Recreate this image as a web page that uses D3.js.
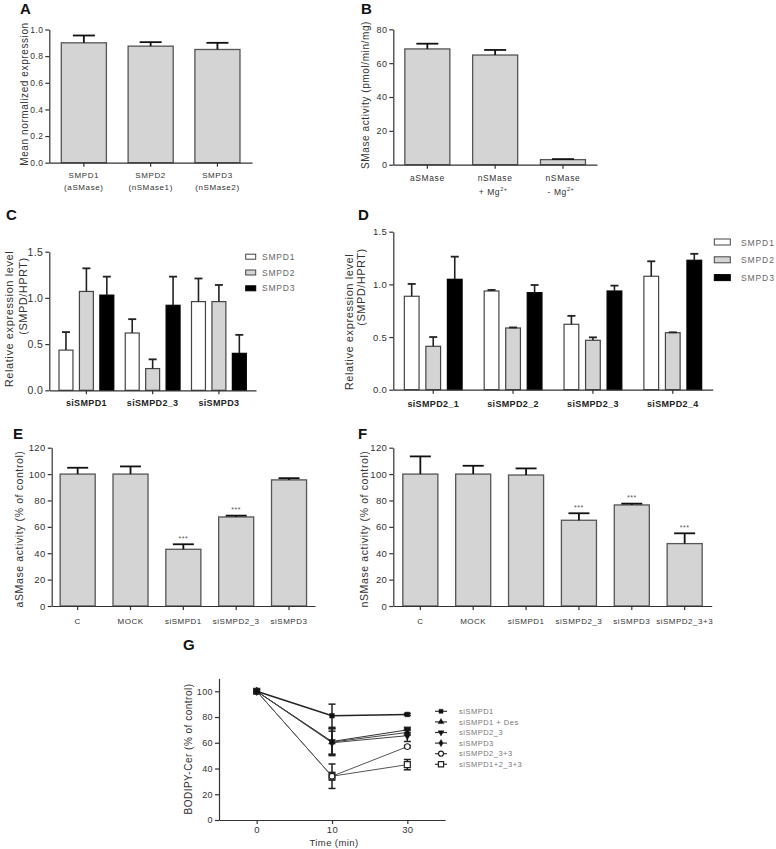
<!DOCTYPE html>
<html><head><meta charset="utf-8">
<script src="https://cdn.jsdelivr.net/npm/d3@7"></script>
<style>
html,body{margin:0;padding:0;background:#fff;}
svg{display:block;font-family:"Liberation Sans",Arial,sans-serif;}
</style></head><body>
<svg id="fig" width="776" height="849"></svg>
<script>
// ---------------- DATA ----------------
// Panel A
const aCategories = ["SMPD1", "SMPD2", "SMPD3"];
const aSubLabels = ["(aSMase)", "(nSMase1)", "(nSMase2)"];
const aValues = [0.90, 0.875, 0.85];
const aErrors = [0.055, 0.03, 0.05];
const aTicks = [0, 0.2, 0.4, 0.6, 0.8, 1.0];

// Panel B
const bCategories = ["aSMase", "nSMase", "nSMase"];
const bSubLabels = ["", "+ Mg", "- Mg"];
const bSuperscripts = ["", "2+", "2+"];
const bValues = [68.4, 64.8, 3.0];
const bErrors = [3.1, 3.0, 0.3];
const bTicks = [0, 20, 40, 60, 80];

// Panel C
const cGroups = ["siSMPD1", "siSMPD2_3", "siSMPD3"];
const cSeries = ["SMPD1", "SMPD2", "SMPD3"];
const cSMPD1 = [0.435, 0.62, 0.96];
const cSMPD2 = [1.07, 0.235, 0.96];
const cSMPD3 = [1.03, 0.92, 0.40];
const cErr1 = [0.195, 0.15, 0.25];
const cErr2 = [0.25, 0.10, 0.18];
const cErr3 = [0.20, 0.31, 0.20];
const cTicks = [0, 0.5, 1.0, 1.5];

// Panel D
const dGroups = ["siSMPD2_1", "siSMPD2_2", "siSMPD2_3", "siSMPD2_4"];
const dSeries = ["SMPD1", "SMPD2", "SMPD3"];
const dSMPD1 = [0.887, 0.937, 0.621, 1.077];
const dSMPD2 = [0.412, 0.586, 0.469, 0.541];
const dSMPD3 = [1.048, 0.921, 0.937, 1.229];
const dErr1 = [0.117, 0.01, 0.08, 0.142];
const dErr2 = [0.088, 0.005, 0.028, 0.004];
const dErr3 = [0.215, 0.073, 0.051, 0.061];
const dTicks = [0, 0.5, 1.0, 1.5];

// Panel E
const eCategories = ["C", "MOCK", "siSMPD1", "siSMPD2_3", "siSMPD3"];
const eValues = [100, 100, 43, 67.5, 95.6];
const eErrors = [4.8, 5.8, 3.8, 1.0, 1.3];
const eSignificance = ["", "", "***", "***", ""];
const eTicks = [0, 20, 40, 60, 80, 100, 120];

// Panel F
const fCategories = ["C", "MOCK", "siSMPD1", "siSMPD2_3", "siSMPD3", "siSMPD2_3+3"];
const fValues = [100, 100, 99.3, 65, 76.6, 47.3];
const fErrors = [13.4, 6.3, 5.0, 5.3, 1.0, 7.8];
const fSignificance = ["", "", "", "***", "***", "***"];
const fTicks = [0, 20, 40, 60, 80, 100, 120];

// Panel G
const gTimes = ["0", "10", "30"];
const gSeriesNames = ["siSMPD1", "siSMPD1 + Des", "siSMPD2_3", "siSMPD3", "siSMPD2_3+3", "siSMPD1+2_3+3"];
const gSiSMPD1 = [100, 81, 82];
const gSiSMPD1Des = [100, 60.5, 68];
const gSiSMPD2_3 = [100, 61, 70];
const gSiSMPD3 = [100, 60, 65.5];
const gSiSMPD2_3_3 = [100, 34, 57];
const gSiSMPD1_2_3_3 = [100, 34, 43];
const gErrSiSMPD1 = [0, 9, 0.8];
const gErrSiSMPD1Des = [0, 10.5, 2];
const gErrSiSMPD2_3 = [0, 10, 2];
const gErrSiSMPD3 = [0, 9, 4.5];
const gErrSiSMPD2_3_3 = [0, 9.5, 1];
const gErrSiSMPD1_2_3_3 = [0, 3, 4];
const gTicks = [0, 20, 40, 60, 80, 100];

// ---------------- STYLE ----------------
const FONT = '"Liberation Sans", Arial, sans-serif';
const AX = "#333";
const BAR_FILL = "#d4d4d4";
const BAR_STROKE = "#555";
const groupFills = ["#ffffff", "#d4d4d4", "#000000"];

const svg = d3.select("#fig");
svg.append("rect").attr("width", 776).attr("height", 849).attr("fill", "#fff");

function styleAxis(a, fs) {
  a.attr("font-family", FONT);
  a.select(".domain").attr("stroke", AX).attr("stroke-width", 1.2);
  a.selectAll(".tick line").attr("stroke", AX).attr("stroke-width", 1.2);
  a.selectAll(".tick text").attr("fill", "#333").attr("font-size", fs || 8.5).attr("letter-spacing", 0.4);
}
function yAxis(y, x0, ticks, fmt, fs) {
  const a = svg.append("g").attr("transform", `translate(${x0},0)`)
    .call(d3.axisLeft(y).tickValues(ticks).tickFormat(fmt).tickSize(4).tickSizeOuter(0).tickPadding(2));
  styleAxis(a, fs);
  return a;
}
function xAxis(x, y0) {
  const a = svg.append("g").attr("transform", `translate(0,${y0})`)
    .call(d3.axisBottom(x).tickFormat("").tickSize(4).tickSizeOuter(0));
  styleAxis(a);
  return a;
}
function line(x1, y1, x2, y2, w, c) {
  svg.append("line").attr("x1", x1).attr("y1", y1).attr("x2", x2).attr("y2", y2)
    .attr("stroke", c || "#111").attr("stroke-width", w || 1.8);
}
function text(x, y, s, o) {
  o = o || {};
  return svg.append("text").attr("x", x).attr("y", y).text(s)
    .attr("font-family", FONT).attr("font-size", o.fs || 8.5)
    .attr("font-weight", o.fw || "normal")
    .attr("fill", o.fill || "#333")
    .attr("letter-spacing", o.ls == null ? 0.4 : o.ls)
    .attr("text-anchor", o.anchor || "middle");
}
function vtext(cx, cy, s, fs, ls) {
  svg.append("text").attr("transform", `translate(${cx},${cy}) rotate(-90)`)
    .attr("text-anchor", "middle").attr("font-family", FONT).attr("font-size", fs)
    .attr("fill", "#333").attr("letter-spacing", ls == null ? 0.5 : ls).text(s);
}
function panelLabel(x, y, s) {
  svg.append("text").attr("x", x).attr("y", y).text(s).attr("font-family", FONT)
    .attr("font-size", 15).attr("font-weight", "bold").attr("fill", "#111");
}

// simple bar chart
function simpleBars(o) {
  const x = d3.scaleBand().domain(o.values.map((d, i) => i)).range([o.xl, o.xr])
    .paddingInner(o.pi).paddingOuter(o.po);
  const y = d3.scaleLinear().domain([0, o.ymax]).range([o.yb, o.yt]);
  svg.append("g").selectAll("rect").data(o.values).join("rect")
    .attr("x", (d, i) => x(i)).attr("y", d => y(d))
    .attr("width", x.bandwidth()).attr("height", d => y(0) - y(d))
    .attr("fill", BAR_FILL).attr("stroke", BAR_STROKE).attr("stroke-width", 1.3);
  o.values.forEach((v, i) => {
    const cx = x(i) + x.bandwidth() / 2;
    const ye = y(v + o.errors[i]);
    line(cx, y(v), cx, ye);
    line(cx - o.capW / 2, ye, cx + o.capW / 2, ye);
    if (o.sig && o.sig[i]) text(cx, ye - 3.5, o.sig[i], { fs: 7, fill: "#555", ls: 0.5 });
  });
  yAxis(y, o.xl, o.ticks, o.fmt, o.tfs);
  xAxis(x, o.yb);
  return { x, y };
}

// grouped bars
function groupBars(o) {
  const x = d3.scaleBand().domain(o.groups).range([o.xl, o.xr]).paddingInner(0).paddingOuter(o.gpo);
  const xi = d3.scaleBand().domain(d3.range(o.series.length)).range([0, x.bandwidth()])
    .paddingInner(o.pi).paddingOuter(o.po);
  const y = d3.scaleLinear().domain([0, o.ymax]).range([o.yb, o.yt]);
  o.series.forEach((vals, s) => {
    svg.append("g").selectAll("rect").data(vals).join("rect")
      .attr("x", (d, i) => x(o.groups[i]) + xi(s)).attr("y", d => y(d))
      .attr("width", xi.bandwidth()).attr("height", d => y(0) - y(d))
      .attr("fill", groupFills[s]).attr("stroke", s === 2 ? "#000" : "#444").attr("stroke-width", 1.2);
    vals.forEach((v, i) => {
      const cx = x(o.groups[i]) + xi(s) + xi.bandwidth() / 2;
      const ye = y(v + o.errors[s][i]);
      line(cx, y(v), cx, ye, 1.6, "#222");
      line(cx - o.capW / 2, ye, cx + o.capW / 2, ye, 1.8, "#222");
    });
  });
  yAxis(y, o.xl, o.ticks, d3.format(".1f"), o.tfs);
  xAxis(x, o.yb);
  o.groups.forEach(gname => {
    text(x(gname) + x.bandwidth() / 2, o.labelY, gname, { fs: 9, fw: "bold", fill: "#222", ls: 0.35 });
  });
  return { x, y };
}

// ---------------- PANEL A ----------------
panelLabel(20, 14, "A");
{
  const r = simpleBars({ values: aValues, errors: aErrors, xl: 49.3, xr: 252, pi: 0.325, po: 0.18,
    yb: 162.7, yt: 29.5, ymax: 1.0, ticks: aTicks, fmt: d3.format(".1f"), capW: 22, tfs: 8.5 });
  aCategories.forEach((c, i) => {
    const cx = r.x(i) + r.x.bandwidth() / 2;
    text(cx, 177.5, c, { fs: 8, ls: 0.6 });
    text(cx, 189.5, aSubLabels[i], { fs: 8, ls: 0.6 });
  });
  vtext(27.5, 94, "Mean normalized expression", 10, 0.6);
}

// ---------------- PANEL B ----------------
panelLabel(361, 14, "B");
{
  const r = simpleBars({ values: bValues, errors: bErrors, xl: 393.3, xr: 597, pi: 0.336, po: 0.17,
    yb: 164.7, yt: 29.3, ymax: 80, ticks: bTicks, fmt: d3.format("d"), capW: 22, tfs: 9 });
  bCategories.forEach((c, i) => {
    const cx = r.x(i) + r.x.bandwidth() / 2;
    text(cx, 181, c, { fs: 8.5, ls: 0.6 });
    if (bSubLabels[i]) {
      const t = text(cx - 2, 195, bSubLabels[i], { fs: 8.5, ls: 0.6 });
      t.append("tspan").attr("dy", -4).attr("font-size", 5.5).text(bSuperscripts[i]);
    }
  });
  vtext(368.5, 95, "SMase activity (pmol/min/mg)", 10, 0.6);
}

// ---------------- PANEL C ----------------
panelLabel(6, 220, "C");
groupBars({ groups: cGroups, series: [cSMPD1, cSMPD2, cSMPD3], errors: [cErr1, cErr2, cErr3],
  xl: 49.3, xr: 256, gpo: 0.06, pi: 0.317, po: 0.28,
  yb: 390.3, yt: 251.7, ymax: 1.5, ticks: cTicks, capW: 8, labelY: 406, tfs: 10.5 });
vtext(13, 319, "Relative expression level", 11, 0.6);
vtext(27, 296, "(SMPD/HPRT)", 11, 0.5);
cSeries.forEach((s, i) => {
  const yy = 256.7 + i * 15.8;
  svg.append("rect").attr("x", 245.7).attr("y", yy - 2.5).attr("width", 10).attr("height", 5)
    .attr("fill", groupFills[i]).attr("stroke", i === 2 ? "#000" : "#444").attr("stroke-width", 1);
  text(262, yy + 3, s, { fs: 8.5, fill: "#666", anchor: "start", ls: 0.8 });
});

// ---------------- PANEL D ----------------
panelLabel(358, 220, "D");
groupBars({ groups: dGroups, series: [dSMPD1, dSMPD2, dSMPD3], errors: [dErr1, dErr2, dErr3],
  xl: 393.3, xr: 712.7, gpo: 0, pi: 0.316, po: 0.513,
  yb: 389.7, yt: 231.7, ymax: 1.5, ticks: dTicks, capW: 8, labelY: 407, tfs: 9.5 });
vtext(353, 322, "Relative expression level", 11, 0.6);
vtext(364.5, 287, "(SMPD/HPRT)", 11, 0.5);
dSeries.forEach((s, i) => {
  const yy = 242 + i * 17.8;
  svg.append("rect").attr("x", 714.3).attr("y", yy - 3).attr("width", 16).attr("height", 6)
    .attr("fill", groupFills[i]).attr("stroke", i === 2 ? "#000" : "#444").attr("stroke-width", 1);
  text(741, yy + 3.5, s, { fs: 8.5, fill: "#666", anchor: "start", ls: 0.9 });
});

// ---------------- PANEL E ----------------
panelLabel(13, 438.5, "E");
{
  const r = simpleBars({ values: eValues, errors: eErrors, xl: 51.7, xr: 315, pi: 0.337, po: 0.16,
    yb: 606, yt: 447.7, ymax: 120, ticks: eTicks, fmt: d3.format("d"), capW: 21, sig: eSignificance, tfs: 9.5 });
  eCategories.forEach((c, i) => text(r.x(i) + r.x.bandwidth() / 2, 624, c, { fs: 8, ls: 0.5 }));
  vtext(23, 529, "aSMase activity (% of control)", 10.5, 0.6);
}

// ---------------- PANEL F ----------------
panelLabel(358, 438.5, "F");
{
  const r = simpleBars({ values: fValues, errors: fErrors, xl: 393.3, xr: 711.7, pi: 0.337, po: 0.18,
    yb: 606, yt: 447.7, ymax: 120, ticks: fTicks, fmt: d3.format("d"), capW: 21, sig: fSignificance, tfs: 9.5 });
  fCategories.forEach((c, i) => text(r.x(i) + r.x.bandwidth() / 2, 624, c, { fs: 8, ls: 0.5 }));
  vtext(368, 529, "nSMase activity (% of control)", 10.5, 0.6);
}

// ---------------- PANEL G ----------------
panelLabel(183, 650, "G");
{
  const x = d3.scalePoint().domain(gTimes).range([219, 445]).padding(0.5);
  const y = d3.scaleLinear().domain([0, 110]).range([820, 678.4]);
  const seriesVals = [gSiSMPD1, gSiSMPD1Des, gSiSMPD2_3, gSiSMPD3, gSiSMPD2_3_3, gSiSMPD1_2_3_3];
  const seriesErr = [gErrSiSMPD1, gErrSiSMPD1Des, gErrSiSMPD2_3, gErrSiSMPD3, gErrSiSMPD2_3_3, gErrSiSMPD1_2_3_3];
  const symTypes = [d3.symbolSquare, d3.symbolTriangle, d3.symbolTriangle, d3.symbolDiamond, d3.symbolCircle, d3.symbolSquare];
  const symRot = [0, 0, 180, 0, 0, 0];
  const symSize = [22, 20, 20, 20, 26, 36];
  const filled = [true, true, true, true, false, false];
  const lw = [1.4, 1, 1, 1, 1, 1];
  const lc = ["#222", "#444", "#333", "#444", "#555", "#555"];
  const lineGen = d3.line().x((d, i) => x(gTimes[i])).y(d => y(d));
  function marker(px, py, s, scale) {
    svg.append("path").attr("transform", `translate(${px},${py}) rotate(${symRot[s]})`)
      .attr("d", d3.symbol().type(symTypes[s]).size(symSize[s] * (scale || 1))())
      .attr("fill", filled[s] ? "#111" : "#fff").attr("stroke", "#222").attr("stroke-width", filled[s] ? 0.5 : 1.2);
  }
  for (let s = seriesVals.length - 1; s >= 0; s--) {
    const vals = seriesVals[s];
    svg.append("path").attr("d", lineGen(vals)).attr("fill", "none").attr("stroke", lc[s]).attr("stroke-width", lw[s]);
    vals.forEach((v, i) => {
      const e = seriesErr[s][i];
      if (e > 0) {
        const cx = x(gTimes[i]);
        line(cx, y(v - e), cx, y(v + e), 1.5, "#222");
        line(cx - 3.5, y(v + e), cx + 3.5, y(v + e), 1.5, "#222");
        line(cx - 3.5, y(v - e), cx + 3.5, y(v - e), 1.5, "#222");
      }
    });
  }
  for (let s = seriesVals.length - 1; s >= 0; s--) {
    seriesVals[s].forEach((v, i) => marker(x(gTimes[i]), y(v), s));
  }
  yAxis(y, 219, gTicks, d3.format("d"), 9);
  const xa = svg.append("g").attr("transform", "translate(0,820)")
    .call(d3.axisBottom(x).tickSize(4).tickSizeOuter(0).tickPadding(2));
  styleAxis(xa, 9.5);
  text(334, 846, "Time (min)", { fs: 9.5, ls: 0.4 });
  vtext(192, 749, "BODIPY-Cer (% of control)", 10, 0.5);
  gSeriesNames.forEach((n, s) => {
    const yy = 711.3 + s * 10.6;
    line(435, yy, 447, yy, 1.2, "#333");
    marker(441, yy, s, 0.75);
    text(459, yy + 2.6, n, { fs: 7.5, fill: "#777", anchor: "start", ls: 0.5 });
  });
}
</script>
</body></html>
